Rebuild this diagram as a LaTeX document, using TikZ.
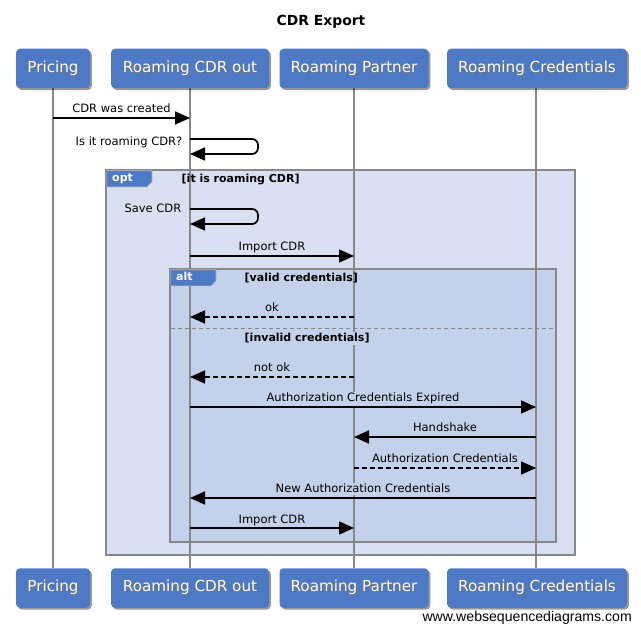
\documentclass[tikz,border=0pt]{standalone}
\usepackage{fontspec}
\setmainfont{DejaVu Sans}
\newfontfamily\wmfont{Liberation Sans}
\usetikzlibrary{arrows.meta,shadows}
\definecolor{pblue}{RGB}{78,121,196}
\definecolor{optfill}{RGB}{216,224,241}
\definecolor{altfill}{RGB}{195,209,234}
\definecolor{lgray}{RGB}{136,136,136}
\newcommand\shtxt[1]{\rlap{\hspace{0.9pt}\raisebox{-0.9pt}{\color{black!55}#1}}#1}
\begin{document}
\begin{tikzpicture}[x=1pt,y=-1pt,
  part/.style={fill=pblue, rounded corners=4pt, text=white,
    font=\fontsize{15.2}{18}\selectfont, inner sep=0pt, minimum height=39.5pt,
    drop shadow={shadow xshift=1.8pt, shadow yshift=-1.8pt, opacity=0.4, fill=black}},
  life/.style={draw=lgray, line width=1.6pt},
  msg/.style={draw=black, line width=1.7pt, -{Triangle[length=15pt,width=13pt]}},
  ret/.style={msg, dash pattern=on 5pt off 3pt},
  selfmsg/.style={msg, rounded corners=6pt},
  lbl/.style={font=\fontsize{11.5}{13}\selectfont, inner sep=1.5pt, anchor=base},
  guard/.style={font=\bfseries\fontsize{11}{13}\selectfont, inner sep=1.5pt, anchor=base west},
  tabtxt/.style={font=\bfseries\fontsize{11}{13}\selectfont, text=white, inner sep=0pt, anchor=base west},
  frame/.style={draw=lgray, line width=1.6pt},
  tabshape/.style={fill=pblue, draw=lgray!60, line width=0.6pt}
]
\useasboundingbox (0,0) rectangle (641,631);

% title
\node[font=\bfseries\fontsize{13.9}{16}\selectfont, anchor=base, inner sep=0pt] (title) at (321,25.5) {CDR Export};

% frames
\draw[frame, fill=optfill] (106,170) rectangle (575,555);
\draw[frame, fill=altfill] (170,269) rectangle (556,542);
\draw[lgray, line width=1.2pt, dash pattern=on 4pt off 3pt] (171,328.5) -- (555,328.5);

% lifelines
\coordinate (l1t) at (53,88.5);  \coordinate (l1b) at (53,568);
\coordinate (l2t) at (190,88.5); \coordinate (l2b) at (190,568);
\coordinate (l3t) at (354,88.5); \coordinate (l3b) at (354,568);
\coordinate (l4t) at (536,88.5); \coordinate (l4b) at (536,568);
\draw[life] (l1t) -- (l1b);
\draw[life] (l2t) -- (l2b);
\draw[life] (l3t) -- (l3b);
\draw[life] (l4t) -- (l4b);

% tabs
\draw[tabshape] (106.8,170.8) -- (152,170.8) -- (152,182) -- (147,187) -- (106.8,187) -- cycle;
\node[tabtxt] (optlbl) at (112,182) {opt};
\draw[tabshape] (170.8,269.8) -- (216,269.8) -- (216,281) -- (211,286) -- (170.8,286) -- cycle;
\node[tabtxt] (altlbl) at (176,281) {alt};

% participants
\node[part, minimum width=74pt]  (p1)  at (53,68.5)  {\shtxt{Pricing}};
\node[part, minimum width=158pt] (p2)  at (190,68.5) {\shtxt{Roaming CDR out}};
\node[part, minimum width=149pt] (p3)  at (354,68.5) {\shtxt{Roaming Partner}};
\node[part, minimum width=180pt] (p4)  at (537,68.5) {\shtxt{Roaming Credentials}};
\node[part, minimum width=74pt]  (q1)  at (53,588)   {\shtxt{Pricing}};
\node[part, minimum width=158pt] (q2)  at (190,588)  {\shtxt{Roaming CDR out}};
\node[part, minimum width=149pt] (q3)  at (354,588)  {\shtxt{Roaming Partner}};
\node[part, minimum width=180pt] (q4)  at (537,588)  {\shtxt{Roaming Credentials}};

% message points
\coordinate (a1) at (53,118);   \coordinate (b1) at (190,118);
\coordinate (s1a) at (190,139); \coordinate (s1r) at (258,139); \coordinate (s1q) at (258,154); \coordinate (s1b) at (190,154);
\coordinate (s2a) at (190,209); \coordinate (s2r) at (258,209); \coordinate (s2q) at (258,224); \coordinate (s2b) at (190,224);
\coordinate (a3) at (190,256);  \coordinate (b3) at (354,256);
\coordinate (a4) at (354,317);  \coordinate (b4) at (190,317);
\coordinate (a5) at (354,377);  \coordinate (b5) at (190,377);
\coordinate (a6) at (190,407);  \coordinate (b6) at (536,407);
\coordinate (a7) at (536,437);  \coordinate (b7) at (354,437);
\coordinate (a8) at (354,468);  \coordinate (b8) at (536,468);
\coordinate (a9) at (536,498);  \coordinate (b9) at (190,498);
\coordinate (a10) at (190,528); \coordinate (b10) at (354,528);

% labels
\node[lbl] (t1) at (121.5,113) {CDR was created};
\node[lbl, anchor=base east] (t2) at (184,145.5) {Is it roaming CDR?};
\node[lbl, anchor=base east] (t3) at (183,213) {Save CDR};
\node[lbl] (t4) at (272,251) {Import CDR};
\node[lbl, fill=altfill] (t5) at (272,312) {ok};
\node[lbl, fill=altfill] (t6) at (272,372) {not ok};
\node[lbl, fill=altfill] (t7) at (363,402) {Authorization Credentials Expired};
\node[lbl, fill=altfill] (t8) at (445,432) {Handshake};
\node[lbl, fill=altfill] (t9) at (445,463) {Authorization Credentials};
\node[lbl, fill=altfill] (t10) at (363,493) {New Authorization Credentials};
\node[lbl, fill=altfill] (t11) at (272,523) {Import CDR};

% guards
\node[guard] (g1) at (180,182.5) {[it is roaming CDR]};
\node[guard] (g2) at (243,281.5) {[valid credentials]};
\node[guard, fill=altfill] (g3) at (243,342) {[invalid credentials]};

% arrows
\draw[msg] (a1) -- (b1);
\draw[selfmsg] (s1a) -- (s1r) -- (s1q) -- (s1b);
\draw[selfmsg] (s2a) -- (s2r) -- (s2q) -- (s2b);
\draw[msg] (a3) -- (b3);
\draw[ret] (a4) -- (b4);
\draw[ret] (a5) -- (b5);
\draw[msg] (a6) -- (b6);
\draw[msg] (a7) -- (b7);
\draw[ret] (a8) -- (b8);
\draw[msg] (a9) -- (b9);
\draw[msg] (a10) -- (b10);

% watermark
\node[font=\wmfont\fontsize{14.1}{16}\selectfont, anchor=base east, inner sep=0pt] (wm) at (632,621) {www.websequencediagrams.com};
\end{tikzpicture}
\end{document}
